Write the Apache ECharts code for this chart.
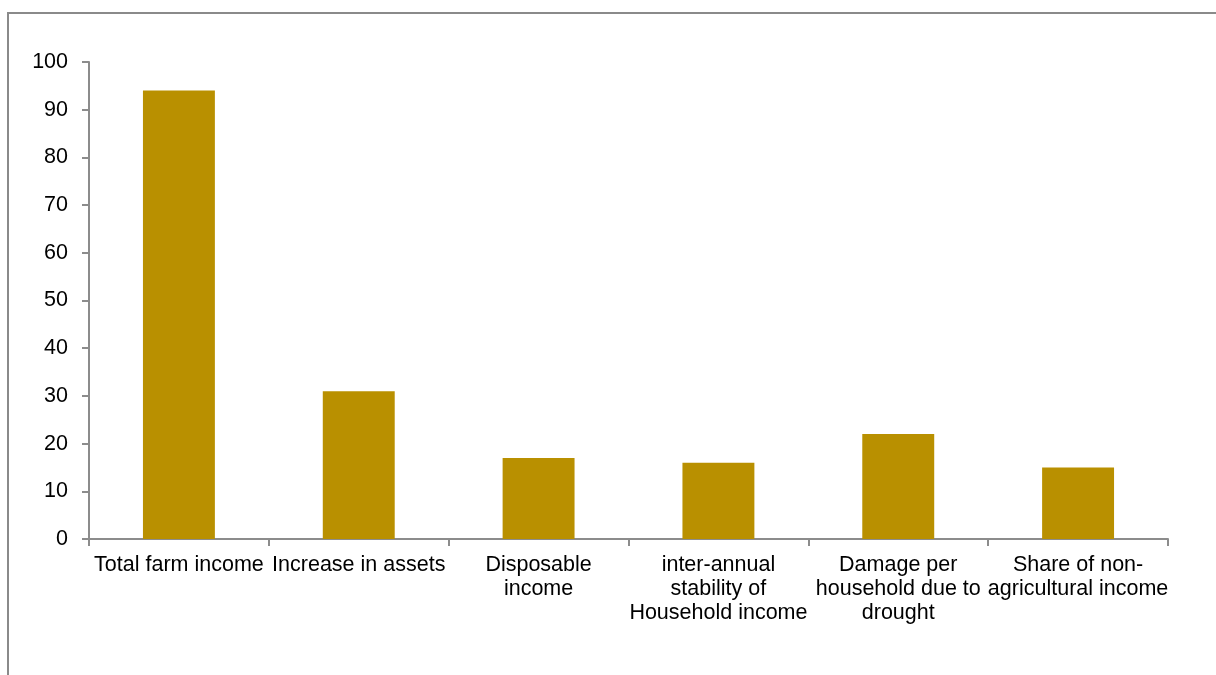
<!DOCTYPE html>
<html>
<head>
<meta charset="utf-8">
<script src="https://cdn.jsdelivr.net/npm/echarts@6/dist/echarts.min.js"></script>
<style>
html,body{margin:0;padding:0;background:#fff;}
#chart{width:1216px;height:675px;}
</style>
</head>
<body>
<div id="chart"></div>
<script>
const categories = [
  "Total farm income",
  "Increase in assets",
  "Disposable\nincome",
  "inter-annual\nstability of\nHousehold income",
  "Damage per\nhousehold due to\ndrought",
  "Share of non-\nagricultural income"
];
const values = [94, 31, 17, 16, 22, 15];
const yTicks = { min: 0, max: 100, interval: 10 };

const chart = echarts.init(document.getElementById('chart'), null, {renderer: 'canvas'});
const font = '"Liberation Sans", Arial, sans-serif';
chart.setOption({
  animation: false,
  backgroundColor: '#ffffff',
  graphic: [{
    type: 'polyline',
    shape: { points: [[8, 700], [8, 13], [1230, 13]] },
    style: { stroke: '#8a8a8a', lineWidth: 2, fill: null },
    silent: true
  }],
  grid: { left: 89, right: 48, top: 62, bottom: 136, containLabel: false },
  xAxis: {
    type: 'category',
    data: categories,
    axisLine: { show: true, lineStyle: { color: '#8c8c8c', width: 2 } },
    axisTick: { show: true, alignWithLabel: false, length: 7, lineStyle: { color: '#8c8c8c', width: 2 } },
    axisLabel: {
      interval: 0, color: '#000', fontFamily: font, fontSize: 21.5,
      lineHeight: 24, margin: 14
    },
    splitLine: { show: false }
  },
  yAxis: {
    type: 'value',
    min: yTicks.min, max: yTicks.max, interval: yTicks.interval,
    axisLine: { show: true, lineStyle: { color: '#8c8c8c', width: 2 } },
    axisTick: { show: true, length: 7, lineStyle: { color: '#8c8c8c', width: 2 } },
    axisLabel: { color: '#000', fontFamily: font, fontSize: 21.5, margin: 21 },
    splitLine: { show: false }
  },
  series: [{
    type: 'bar',
    data: values,
    barCategoryGap: '60%',
    itemStyle: { color: '#B99000' }
  }]
});
</script>
</body>
</html>
